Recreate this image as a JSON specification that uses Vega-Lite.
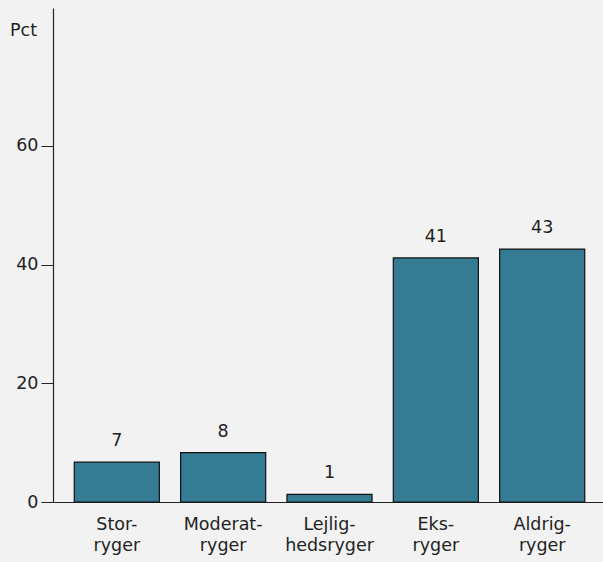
{
  "$schema": "https://vega.github.io/schema/vega-lite/v6.json",
  "width": 553,
  "height": 494,
  "autosize": {"type": "none"},
  "padding": {"left": 53, "top": 8, "right": 0, "bottom": 60},
  "background": "#f2f2f2",
  "config": {
    "view": {"stroke": null},
    "font": "DejaVu Sans",
    "axis": {"labelColor": "#222222", "titleColor": "#222222", "labelFont": "DejaVu Sans", "titleFont": "DejaVu Sans", "labelFontWeight": "normal", "grid": false, "domainColor": "#222222", "tickColor": "#222222"}
  },
  "data": {
    "values": [
      {"kategori": "Stor-|ryger", "pct": 6.7, "label": "7"},
      {"kategori": "Moderat-|ryger", "pct": 8.3, "label": "8"},
      {"kategori": "Lejlig-|hedsryger", "pct": 1.3, "label": "1"},
      {"kategori": "Eks-|ryger", "pct": 41.1, "label": "41"},
      {"kategori": "Aldrig-|ryger", "pct": 42.6, "label": "43"}
    ]
  },
  "encoding": {
    "x": {
      "field": "kategori",
      "type": "nominal",
      "sort": null,
      "scale": {"paddingInner": 0.2, "paddingOuter": 0.2},
      "axis": {
        "title": null,
        "labelAngle": 0,
        "ticks": false,
        "labelPadding": 13,
        "labelBaseline": "top",
        "labelFontSize": 17.5,
        "labelLineHeight": 21,
        "labelExpr": "split(datum.label, '|')",
        "domainWidth": 1.2
      }
    },
    "y": {
      "field": "pct",
      "type": "quantitative",
      "scale": {"domain": [0, 83.2], "nice": false},
      "axis": {
        "values": [0, 20, 40, 60],
        "title": "Pct",
        "titleAngle": 0,
        "titleAlign": "center",
        "titleBaseline": "middle",
        "titleX": -30,
        "titleY": 22,
        "titleFontSize": 17.5,
        "titleFontWeight": "normal",
        "labelFontSize": 17.5,
        "tickSize": 12,
        "labelPadding": 3,
        "domainWidth": 1.2
      }
    }
  },
  "layer": [
    {"mark": {"type": "bar", "color": "#347b93", "stroke": "#111111", "strokeWidth": 1.2}},
    {"mark": {"type": "text", "baseline": "middle", "dy": -21, "fontSize": 17.5, "color": "#222222"}, "encoding": {"text": {"field": "label"}}}
  ]
}
